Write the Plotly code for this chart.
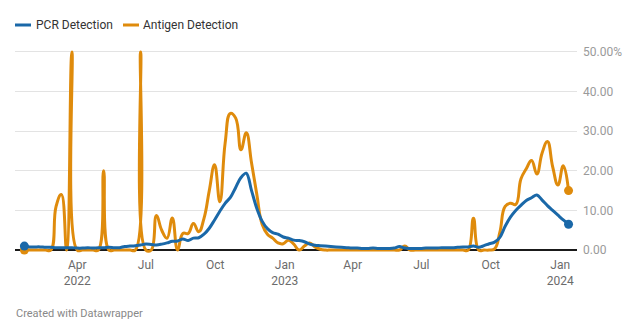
import pandas as pd
import plotly.graph_objects as go

# ---- data ----
start_date = "2022-01-21"
n_weeks = 104
dates = pd.date_range(start_date, periods=n_weeks, freq="7D")

pcr = [1.0, 0.8, 0.8, 0.8, 0.7, 0.7,
       0.6, 0.6, 0.6, 0.6, 0.5,
       0.5, 0.6, 0.5, 0.6, 0.6,
       0.7, 0.6, 0.6, 0.9, 1.0,
       1.1, 1.3, 1.5, 1.4, 1.3,
       1.5, 1.8, 2.2, 2.3, 2.8,
       2.4, 3.0, 3.1, 4.0, 5.5,
       7.6, 9.8, 11.8, 13.3, 15.8,
       18.3, 19.4, 15.0, 10.5, 7.3,
       5.4, 4.4, 4.0, 3.3, 3.0,
       2.5, 2.4, 2.1, 1.5, 1.2,
       1.1, 1.0, 0.9, 0.8, 0.7,
       0.6, 0.5, 0.5, 0.4, 0.4,
       0.5, 0.4, 0.4, 0.4, 0.5,
       0.9, 0.5, 0.4, 0.4, 0.4,
       0.5, 0.5, 0.5, 0.6, 0.6,
       0.6, 0.7, 0.8, 0.8, 1.0,
       0.7, 1.1, 1.6, 2.0, 3.2,
       6.0, 8.3, 10.0, 11.3, 12.5,
       13.2, 13.9, 12.6, 11.2, 10.0,
       8.8, 7.6, 6.5]

antigen = [0, 0, 0, 0, 0, 0,
           11, 14, 0, 50, 0,
           0, 0, 0, 0, 20,
           0, 0, 0, 0, 0,
           0, 50, 0, 0, 8.7,
           5, 3, 8.1, 0, 4.2,
           4.2, 6.7, 4.6, 8, 15,
           21.5, 12.2, 27, 34.5, 33.3,
           25.3, 29.6, 22, 14, 6.5,
           4.0, 3.0, 1.8, 1.6, 2.5,
           1.5, 0, 1.0, 1.8, 0.8,
           0.2, 0, 0, 0, 0,
           0, 0, 0, 0, 0,
           0, 0, 0, 0, 0,
           0, 1.0, 0, 0, 0,
           0, 0, 0, 0, 0,
           0, 0, 0, 0, 8.0,
           0, 0, 0, 0.3, 4.5,
           11, 11.8, 11.5, 18, 20.5,
           22.6, 19.2, 24.5, 27.4, 21,
           16.4, 21.3, 15.0]

x_tickvals = ["2022-04-01", "2022-07-01", "2022-10-01", "2023-01-01",
              "2023-04-01", "2023-07-01", "2023-10-01", "2024-01-01"]
x_ticktext = ["Apr<br>2022", "Jul", "Oct", "Jan<br>2023",
              "Apr", "Jul", "Oct", "Jan<br>2024"]
y_tickvals = [0, 10, 20, 30, 40, 50]
y_ticktext = ["0.00", "10.00", "20.00", "30.00", "40.00", "50.00%"]

series_names = ["PCR Detection", "Antigen Detection"]
BLUE = "#1a68a8"
ORANGE = "#df8b0c"

# ---- figure ----
fig = go.Figure()

for vals, name, col, smooth in [(antigen, series_names[1], ORANGE, 1.3),
                                (pcr, series_names[0], BLUE, 1.0)]:
    fig.add_trace(go.Scatter(
        x=dates, y=vals, name=name, mode="lines",
        line=dict(color=col, width=3, shape="spline", smoothing=smooth),
        showlegend=False, hoverinfo="skip"))
    fig.add_trace(go.Scatter(
        x=[dates[0], dates[-1]], y=[vals[0], vals[-1]], mode="markers",
        marker=dict(size=9, color=col, opacity=1, line=dict(width=0)),
        showlegend=False, hoverinfo="skip"))

L, R, T, B = 15, 63, 46, 79
W, H = 640, 335
pw = W - L - R
ph = H - T - B

def px_to_paper_x(px):
    return (px - L) / pw

def px_to_paper_y(py):
    return (H - B - py) / ph

fig.update_layout(
    width=W, height=H,
    margin=dict(l=L, r=R, t=T, b=B, pad=0),
    paper_bgcolor="white", plot_bgcolor="white",
    font=dict(family="Roboto, Arial, sans-serif", size=12, color="#333333"),
    showlegend=False,
    xaxis=dict(
        type="date",
        range=["2022-01-08 14:00", "2024-01-23 05:00"],
        tickvals=x_tickvals, ticktext=x_ticktext,
        showgrid=False, zeroline=False, showline=False,
        ticks="", tickfont=dict(size=12, color="#6b6b6b"),
        fixedrange=True,
    ),
    yaxis=dict(
        side="right",
        range=[-1.5, 51.5],
        tickvals=y_tickvals, ticktext=y_ticktext,
        showgrid=True, gridcolor="#e3e3e3", gridwidth=1,
        zeroline=True, zerolinecolor="#1a1a1a", zerolinewidth=1.6,
        showline=False, ticks="", ticklabelstandoff=5,
        tickfont=dict(size=12, color="#9a9a9a"),
        fixedrange=True,
    ),
)

# legend (top left)
legend_y = px_to_paper_y(25)
legend_items = [(15, 31, 34, series_names[0], BLUE),
                (123, 139, 141, series_names[1], ORANGE)]
for x0, x1, xt, label, col in legend_items:
    fig.add_shape(type="line", xref="paper", yref="paper",
                  x0=px_to_paper_x(x0), x1=px_to_paper_x(x1),
                  y0=legend_y, y1=legend_y,
                  line=dict(color=col, width=3))
    fig.add_annotation(xref="paper", yref="paper",
                       x=px_to_paper_x(xt), y=legend_y,
                       xanchor="left", yanchor="middle", showarrow=False,
                       text=label, font=dict(size=12, color="#333333"))

fig.add_annotation(xref="paper", yref="paper",
                   x=px_to_paper_x(14), y=px_to_paper_y(313),
                   xanchor="left", yanchor="middle", showarrow=False,
                   text="Created with Datawrapper",
                   font=dict(size=11, color="#888888"))

fig.write_html("out.html")
